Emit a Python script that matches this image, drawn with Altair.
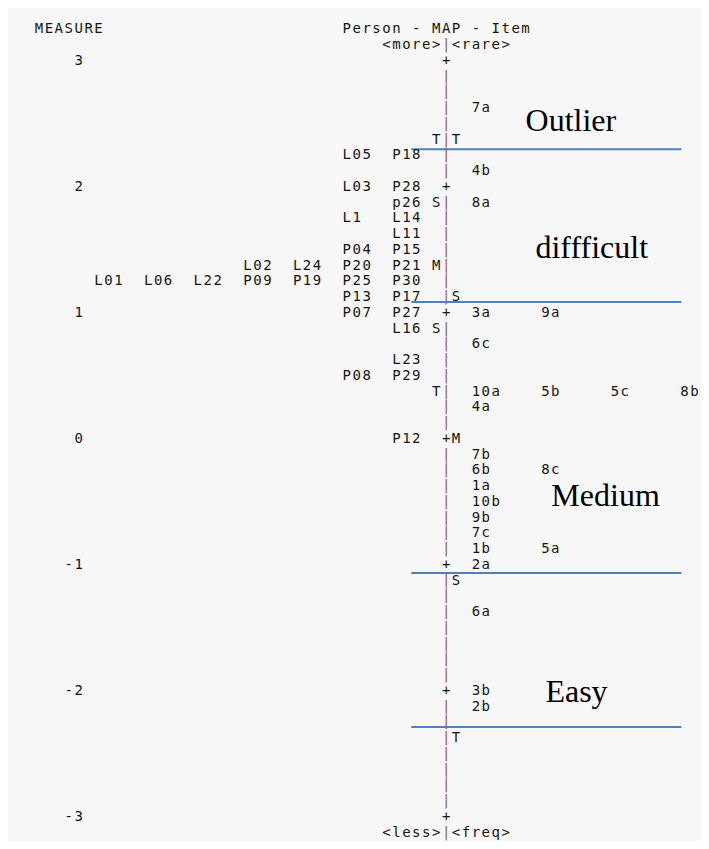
import altair as alt
import pandas as pd

# ---- data (one text row = 0.125 logits) ----
measure_ticks = ["3", "2", "1", "0", "-1", "-2", "-3"]
measure_tick_vals = [3, 2, 1, 0, -1, -2, -3]

person_rows = [
    (2.25, ["L05", "P18"]),
    (2.0, ["L03", "P28"]),
    (1.875, ["p26"]),
    (1.75, ["L1", "L14"]),
    (1.625, ["L11"]),
    (1.5, ["P04", "P15"]),
    (1.375, ["L02", "L24", "P20", "P21"]),
    (1.25, ["L01", "L06", "L22", "P09", "P19", "P25", "P30"]),
    (1.125, ["P13", "P17"]),
    (1.0, ["P07", "P27"]),
    (0.875, ["L16"]),
    (0.625, ["L23"]),
    (0.5, ["P08", "P29"]),
    (0.0, ["P12"]),
]

item_rows = [
    (2.625, ["7a"]),
    (2.125, ["4b"]),
    (1.875, ["8a"]),
    (1.0, ["3a", "9a"]),
    (0.75, ["6c"]),
    (0.375, ["10a", "5b", "5c", "8b"]),
    (0.25, ["4a"]),
    (-0.125, ["7b"]),
    (-0.25, ["6b", "8c"]),
    (-0.375, ["1a"]),
    (-0.5, ["10b"]),
    (-0.625, ["9b"]),
    (-0.75, ["7c"]),
    (-0.875, ["1b", "5a"]),
    (-1.0, ["2a"]),
    (-1.375, ["6a"]),
    (-2.0, ["3b"]),
    (-2.125, ["2b"]),
]

person_stats = [(2.375, "T"), (1.875, "S"), (1.375, "M"), (0.875, "S"), (0.375, "T")]
item_stats = [(2.375, "T"), (1.125, "S"), (0.0, "M"), (-1.125, "S"), (-2.375, "T")]

band_cuts = [2.30, 1.087, -1.063, -2.286]
band_labels = ["Outlier", "diffficult", "Medium", "Easy"]
band_label_m = [2.444, 1.437, -0.532, -2.087]
band_label_col = [49.5, 50.5, 52.1, 51.5]
band_x_from = 38.0
band_x_to = 65.2

# ---- layout on a monospace character grid ----
AXIS_COL = 41
PERSON_LAST_COL = 36
PERSON_STEP = 5
ITEM_FIRST_COL = 44
ITEM_STEP = 7

glyphs = []


def put(s, col, m):
    for i, ch in enumerate(s):
        if ch != " ":
            glyphs.append({"ch": ch, "c": col + i + 0.5, "m": m})


put("MEASURE", 0, 3.25)
put("Person - MAP - Item", 31, 3.25)
put("<more>|<rare>", 35, 3.125)
put("<less>|<freq>", 35, -3.125)

for lab, v in zip(measure_ticks, measure_tick_vals):
    put(lab, 5 - len(lab), v)

for k in range(-24, 25):
    put("+" if k % 8 == 0 else "|", AXIS_COL, k / 8)

for m, labs in person_rows:
    n = len(labs)
    for i, lab in enumerate(labs):
        put(lab, PERSON_LAST_COL - PERSON_STEP * (n - 1 - i), m)

for m, labs in item_rows:
    for i, lab in enumerate(labs):
        put(lab, ITEM_FIRST_COL + ITEM_STEP * i, m)

for m, s in person_stats:
    put(s, AXIS_COL - 1, m)
for m, s in item_stats:
    put(s, AXIS_COL + 1, m)

gdf = pd.DataFrame(glyphs)
rules = pd.DataFrame({"m": band_cuts, "x0": band_x_from, "x1": band_x_to})
ann = pd.DataFrame({"t": band_labels, "m": band_label_m, "c": band_label_col})

xs = alt.Scale(domain=[-2.618, 67.17], nice=False, zero=False)
ys = alt.Scale(domain=[-3.1905, 3.4206], nice=False, zero=False)

text_layer = alt.Chart(gdf).mark_text(
    font="DejaVu Sans Mono", fontSize=14, baseline="middle", align="center"
).encode(
    x=alt.X("c:Q", scale=xs, axis=None),
    y=alt.Y("m:Q", scale=ys, axis=None),
    text="ch:N",
    color=alt.when(alt.datum.ch == "|").then(alt.value("#a3546c")).otherwise(alt.value("#151515")),
)

rule_layer = alt.Chart(rules).mark_rule(color="#4f81bd", strokeWidth=2).encode(
    x=alt.X("x0:Q", scale=xs, axis=None),
    x2="x1:Q",
    y=alt.Y("m:Q", scale=ys, axis=None),
)

ann_layer = alt.Chart(ann).mark_text(
    font="Liberation Serif", fontSize=32, align="left", baseline="alphabetic", color="#000000"
).encode(
    x=alt.X("c:Q", scale=xs, axis=None),
    y=alt.Y("m:Q", scale=ys, axis=None),
    text="t:N",
)

chart = alt.layer(rule_layer, text_layer, ann_layer).properties(
    width=693, height=833, autosize=alt.AutoSizeParams(type="none"), padding=0,
    background="#f7f7f7",
).configure_view(stroke=None)

chart.save("out.html", embed_options={"renderer": "svg", "actions": False})
